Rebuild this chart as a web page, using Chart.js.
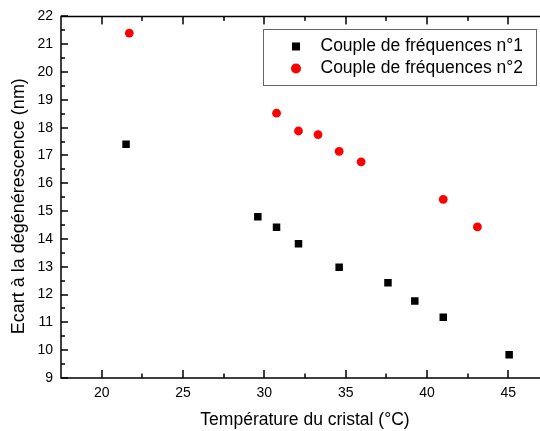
<!DOCTYPE html>
<html><head><meta charset="utf-8">
<script src="https://cdn.jsdelivr.net/npm/chart.js@4"></script>
<style>
html,body{margin:0;padding:0;background:#fff;overflow:hidden;width:540px;height:431px}
#c{display:block}
</style></head>
<body><canvas id="c" width="540" height="431"></canvas>
<script>
const xTitle = 'Température du cristal (°C)';
const yTitle = 'Ecart à la dégénérescence (nm)';
const seriesNames = ['Couple de fréquences n°1', 'Couple de fréquences n°2'];

const tempS1 = [21.5, 29.6, 30.75, 32.1, 34.6, 37.6, 39.25, 41.0, 45.05];
const ecartS1 = [17.4, 14.8, 14.42, 13.83, 12.98, 12.42, 11.77, 11.18, 9.84];
const tempS2 = [21.7, 30.75, 32.1, 33.3, 34.6, 35.95, 41.0, 43.1];
const ecartS2 = [21.4, 18.52, 17.88, 17.75, 17.15, 16.77, 15.42, 14.43];

const xMajorTicks = [20, 25, 30, 35, 40, 45];
const xMinorTicks = [22.5, 27.5, 32.5, 37.5, 42.5, 47.5];
const yMajorTicks = [9, 10, 11, 12, 13, 14, 15, 16, 17, 18, 19, 20, 21, 22];
const yMinorTicks = [9.5, 10.5, 11.5, 12.5, 13.5, 14.5, 15.5, 16.5, 17.5, 18.5, 19.5, 20.5, 21.5];

const FONT = '"Liberation Sans", Arial, sans-serif';

const toPoints = (xs, ys) => xs.map((x, i) => ({x: x, y: ys[i]}));

const framePlugin = {
  id: 'framePlugin',
  afterLayout(chart) {
    // the plot frame continues past the right edge of the picture
    const ext = 9;
    const xs = chart.scales.x, ys = chart.scales.y;
    xs.right += ext; xs.width += ext;
    chart.chartArea.right += ext; chart.chartArea.width += ext;
    xs.configure();
    // y-axis title sits slightly below the middle of the axis
    ys.bottom += 18;
  },
  afterDraw(chart) {
    const ctx = chart.ctx;
    const a = chart.chartArea;
    const xs = chart.scales.x, ys = chart.scales.y;
    const right = xs.getPixelForValue(47.5);
    ctx.save();
    ctx.fillStyle = '#000';
    const lw = 1.5;
    const tickX = (v, len) => {
      const p = Math.round(xs.getPixelForValue(v));
      ctx.fillRect(p - lw / 2, a.bottom - len, lw, len);
      ctx.fillRect(p - lw / 2, a.top, lw, len);
    };
    const tickY = (v, len) => {
      const p = Math.round(ys.getPixelForValue(v));
      ctx.fillRect(a.left, p - lw / 2, len, lw);
    };
    xMajorTicks.forEach(v => tickX(v, 8));
    xMinorTicks.forEach(v => tickX(v, 4.5));
    yMajorTicks.forEach(v => tickY(v, 7));
    yMinorTicks.forEach(v => tickY(v, 4));

    ctx.strokeStyle = '#000';
    ctx.lineWidth = lw;
    ctx.beginPath();
    ctx.moveTo(right, a.top); ctx.lineTo(a.left, a.top);
    ctx.lineTo(a.left, a.bottom); ctx.lineTo(right, a.bottom);
    ctx.stroke();

    // legend box
    ctx.strokeStyle = '#666';
    ctx.lineWidth = 1;
    ctx.strokeRect(263.5, 29.5, 273, 56);
    ctx.fillStyle = '#000';
    ctx.fillRect(292, 42.5, 8, 8);
    ctx.fillStyle = '#ff0000';
    ctx.beginPath();
    ctx.arc(296, 68.5, 5, 0, Math.PI * 2);
    ctx.fill();
    ctx.fillStyle = '#000';
    ctx.font = '17.5px ' + FONT;
    ctx.textBaseline = 'middle';
    ctx.textAlign = 'left';
    ctx.fillText(seriesNames[0], 320.5, 46.5);
    ctx.fillText(seriesNames[1], 320.5, 68.5);
    ctx.restore();
  }
};

new Chart(document.getElementById('c'), {
  type: 'scatter',
  data: {
    datasets: [
      {label: seriesNames[0], data: toPoints(tempS1, ecartS1), pointStyle: 'rect',
       pointRadius: 5.3, pointHoverRadius: 5.3, backgroundColor: '#000', borderColor: '#000', borderWidth: 0},
      {label: seriesNames[1], data: toPoints(tempS2, ecartS2), pointStyle: 'circle',
       pointRadius: 4.4, pointHoverRadius: 4.4, backgroundColor: '#ff0000', borderColor: '#ff0000', borderWidth: 0}
    ]
  },
  options: {
    responsive: false,
    animation: false,
    devicePixelRatio: 1,
    layout: {autoPadding: false, padding: {top: 15.3, right: 0, left: 0, bottom: 0}},
    plugins: {legend: {display: false}, tooltip: {enabled: false}},
    scales: {
      x: {
        type: 'linear', min: 17.5, max: 47.5,
        afterBuildTicks: s => { s.ticks = xMajorTicks.map(v => ({value: v})); },
        afterFit: s => { s.height = 53; s.paddingLeft = 0; s.paddingRight = 0; },
        grid: {display: false, drawTicks: false},
        border: {display: false},
        ticks: {padding: 7, color: '#000', font: {family: FONT, size: 14}},
        title: {display: true, text: xTitle, color: '#000',
                font: {family: FONT, size: 17.5, lineHeight: 1}, padding: {top: 0, bottom: 2}}
      },
      y: {
        type: 'linear', min: 9, max: 22,
        afterBuildTicks: s => { s.ticks = yMajorTicks.map(v => ({value: v})); },
        afterFit: s => { s.width = 61; },
        grid: {display: false, drawTicks: false},
        border: {display: false},
        ticks: {padding: 8, color: '#000', font: {family: FONT, size: 14}},
        title: {display: true, text: yTitle, color: '#000',
                font: {family: FONT, size: 18, lineHeight: 1}, padding: {top: 9.8, bottom: 0}}
      }
    }
  },
  plugins: [framePlugin]
});
</script>
</body></html>
